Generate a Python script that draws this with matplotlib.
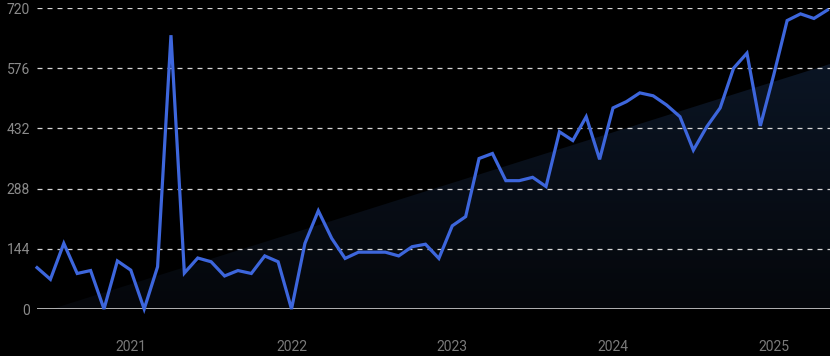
import matplotlib.pyplot as plt
from matplotlib.patches import Polygon
from matplotlib.colors import LinearSegmentedColormap
import numpy as np
import pandas as pd

# monthly values, Jun 2020 .. May 2025
months = pd.date_range('2020-06-01', '2025-05-01', freq='MS')
values = [
    99, 71, 157, 85, 92, 0, 115,                               # 2020
    93, 0, 101, 655, 86, 122, 113, 79, 92, 85, 127, 113,       # 2021
    0, 157, 235, 169, 121, 136, 136, 136, 127, 149, 155, 121,  # 2022
    199, 221, 360, 372, 307, 307, 315, 293, 424, 403, 460, 358,  # 2023
    481, 496, 517, 510, 488, 460, 380, 436, 481, 576, 612, 438,  # 2024
    560, 690, 706, 695, 715,                                   # 2025
]
y_ticks = [0, 144, 288, 432, 576, 720]
year_ticks = ['2021', '2022', '2023', '2024', '2025']

fig = plt.figure(figsize=(8.3, 3.56), dpi=100, facecolor='black')
ax = fig.add_axes([0.0446, 0.132, 0.9554, 0.8455])
ax.set_facecolor('black')

x = np.arange(len(values))

# linear trend, shaded down to zero
k, b = np.polyfit(x, values, 1)
x_end = x[-1] + 0.2
x0 = -b / k if b < 0 else 0
poly = Polygon([[x0, 0], [x_end, k * x_end + b], [x_end, 0]], closed=True,
               facecolor='none', edgecolor='none')
ax.add_patch(poly)
grad = np.linspace(0, 1, 256).reshape(-1, 1)
cmap = LinearSegmentedColormap.from_list('shade', ['#05070b', '#0b1524'])
im = ax.imshow(grad, cmap=cmap, origin='lower', aspect='auto',
               extent=[x0, x_end, 0, k * x_end + b], zorder=1)
im.set_clip_path(poly)

for t in y_ticks[1:]:
    ax.axhline(t, color='#d8d8d8', lw=0.9, ls=(0, (4, 4)), zorder=2)
ax.axhline(0, color='#cfcfcf', lw=1.2, zorder=2)

ax.plot(x, values, color='#3d66dc', lw=2.3, zorder=3, clip_on=False,
        solid_joinstyle='miter')

ax.set_xlim(0, x_end)
ax.set_ylim(0, 720)
ax.set_yticks(y_ticks)
ax.set_yticklabels([str(t) for t in y_ticks], fontsize=10, color='#8a8a8a',
                   fontfamily='Roboto')
year_idx = [list(months.year).index(int(y)) for y in year_ticks]
ax.set_xticks(year_idx)
ax.set_xticklabels(year_ticks, fontsize=10, color='#7a7a7a', fontfamily='Roboto')
ax.tick_params(axis='both', length=0)
ax.tick_params(axis='y', pad=5)
ax.tick_params(axis='x', pad=22)
for s in ax.spines.values():
    s.set_visible(False)

fig.savefig('out.png', dpi=100, facecolor='black')
